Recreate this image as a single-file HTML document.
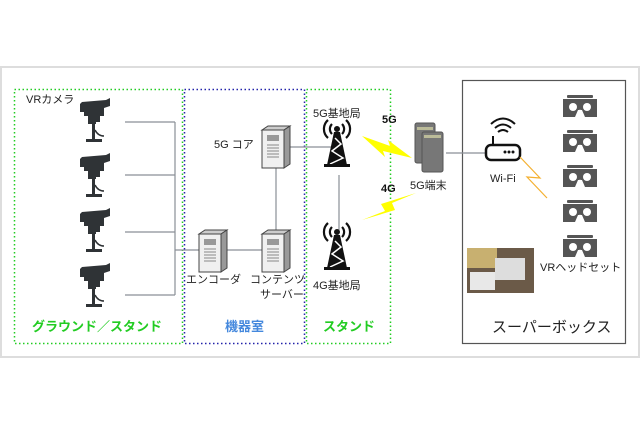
<!DOCTYPE html>
<html><head><meta charset="utf-8"><style>
body{margin:0;background:#fff;}
svg{display:block;font-family:"Liberation Sans","Noto Sans CJK JP",sans-serif;}
</style></head><body>
<svg width="640" height="426" viewBox="0 0 640 426">
<defs>
<g id="cam">
<path d="M-12,-8 L12,-10 L16,-12 L16,-4 L10,-2 L10,6 L6,6 L6,12 L2,12 L2,14 L-6,14 L-6,6 L-10,6 L-10,2 L-14,2 L-14,-6 Z" fill="#2f3336"/>
<rect x="-2" y="14" width="3" height="16" fill="#2f3336"/>
<rect x="-8" y="29" width="16" height="3" fill="#2f3336"/>
<path d="M1,20 Q4,26 10,26" stroke="#2f3336" stroke-width="1.5" fill="none"/>
</g>
<g id="srv">
<path d="M0,4 L6,0 L28,0 L22,4 Z" fill="#ccc" stroke="#444" stroke-width="1"/>
<path d="M22,4 L28,0 L28,38 L22,42 Z" fill="#999" stroke="#444" stroke-width="1"/>
<rect x="0" y="4" width="22" height="38" fill="#f0f0f0" stroke="#444" stroke-width="1"/>
<rect x="5" y="9" width="12" height="6" fill="#999"/>
<g stroke="#888" stroke-width="1"><line x1="5" y1="19" x2="17" y2="19"/><line x1="5" y1="22" x2="17" y2="22"/><line x1="5" y1="25" x2="17" y2="25"/><line x1="5" y1="28" x2="17" y2="28"/><line x1="5" y1="31" x2="17" y2="31"/></g>
</g>
<g id="tow">
<path d="M-5,-11 A7,7 0 0 0 -5,-1 M5,-11 A7,7 0 0 1 5,-1 M-9,-15 A12,12 0 0 0 -9,3 M9,-15 A12,12 0 0 1 9,3" stroke="#111" stroke-width="2.2" fill="none"/>
<circle cx="0" cy="-6" r="3" fill="#111"/>
<path d="M-3,-3 L3,-3 L10,30 L-10,30 Z" fill="#111"/>
<path d="M-2,3 L4,9 L-5,16 L6,23 L-7,29" stroke="#fff" stroke-width="1.5" fill="none"/>
<rect x="-13" y="29" width="26" height="3" fill="#111"/>
</g>
<g id="hs">
<rect x="4" y="0" width="26" height="3" rx="1" fill="#555"/>
<path d="M0,4 H34 V22 H22 L19,15 H15 L12,22 H0 Z" fill="#555"/>
<circle cx="10" cy="12" r="4" fill="#fff"/><circle cx="24" cy="12" r="4" fill="#fff"/>
<path d="M15,20 L17,14 L19,20 Z" fill="#fff"/>
</g>
</defs>
<rect x="1" y="67" width="638" height="290" fill="#fff" stroke="#ddd" stroke-width="2"/>
<rect x="14.5" y="89.5" width="168" height="254" fill="none" stroke="#2c2" stroke-width="1.5" stroke-dasharray="1.5,2.5"/>
<rect x="184.5" y="89.5" width="120" height="254" fill="none" stroke="#22a" stroke-width="1.5" stroke-dasharray="1.5,2.5"/>
<rect x="306.5" y="89.5" width="84" height="254" fill="none" stroke="#2c2" stroke-width="1.5" stroke-dasharray="1.5,2.5"/>
<rect x="462.5" y="80.5" width="163" height="263" fill="none" stroke="#555" stroke-width="1.2"/>
<g stroke="#8a8f96" stroke-width="1.2" fill="none">
<path d="M125,122 H175 M125,175 H175 M125,232 H175 M125,295 H175 M175,122 V295 M175,250 H200 M224,250 H262 M276,168 V232 M290,147 H338 M339,175 V230 M446,153 H486"/>
</g>
<use href="#cam" x="94" y="110"/>
<use href="#cam" x="94" y="165"/>
<use href="#cam" x="94" y="220"/>
<use href="#cam" x="94" y="275"/>
<use href="#srv" x="262" y="126"/>
<use href="#srv" x="199" y="230"/>
<use href="#srv" x="262" y="230"/>
<use href="#tow" x="337" y="135"/>
<use href="#tow" x="337" y="238"/>
<path d="M362,136 L390,146 L388,140 L412,158 L383,151 L385,157 Z" fill="#ff0"/>
<path d="M362,220 L385,211 L381,204 L416,193 L392,203 L395,210 Z" fill="#ff0"/>
<rect x="415" y="123" width="20" height="40" rx="2" fill="#777" stroke="#555"/>
<rect x="417" y="127" width="16" height="3" fill="#bb9"/>
<rect x="422" y="132" width="21" height="40" rx="2" fill="#777" stroke="#555"/>
<rect x="424" y="135" width="17" height="3" fill="#bb9"/>
<path d="M495,128 Q503,121 511,128 M491,124 Q503,113 515,124 M498,132 Q503,128 508,132" stroke="#111" stroke-width="2" fill="none"/>
<rect x="492" y="136" width="2" height="10" fill="#111"/>
<rect x="486" y="145" width="34" height="15" rx="5" fill="#fff" stroke="#111" stroke-width="2.5"/>
<circle cx="505" cy="152" r="1.5" fill="#111"/><circle cx="509" cy="152" r="1.5" fill="#111"/><circle cx="513" cy="152" r="1.5" fill="#111"/>
<path d="M520,157 L540,178 L527,177 L547,198" stroke="#f4b030" stroke-width="1.2" fill="none"/>
<use href="#hs" x="563" y="95"/>
<use href="#hs" x="563" y="130"/>
<use href="#hs" x="563" y="165"/>
<use href="#hs" x="563" y="200"/>
<use href="#hs" x="563" y="235"/>
<rect x="467" y="248" width="67" height="45" fill="#6b5a48"/>
<rect x="467" y="248" width="30" height="20" fill="#c8b070"/>
<rect x="495" y="258" width="30" height="22" fill="#ddd"/>
<rect x="470" y="272" width="25" height="18" fill="#e8e8e8"/>
<g font-size="11" fill="#222">
<text x="26" y="103">VRカメラ</text>
<text x="214" y="148">5G コア</text>
<text x="186" y="283">エンコーダ</text>
<text x="250" y="283">コンテンツ</text>
<text x="260" y="298">サーバー</text>
<text x="313" y="117">5G基地局</text>
<text x="313" y="289">4G基地局</text>
<text x="410" y="189">5G端末</text>
<text x="490" y="182">Wi-Fi</text>
<text x="540" y="271">VRヘッドセット</text>
</g>
<g font-size="11" font-weight="bold" fill="#111">
<text x="382" y="123">5G</text>
<text x="381" y="192">4G</text>
</g>
<g font-size="13" font-weight="bold">
<text x="32" y="331" fill="#2c2">グラウンド／スタンド</text>
<text x="225" y="331" fill="#4488dd">機器室</text>
<text x="323" y="331" fill="#2c2">スタンド</text>
</g>
<text x="492" y="332" font-size="15" fill="#222">スーパーボックス</text>
</svg>
</body></html>
